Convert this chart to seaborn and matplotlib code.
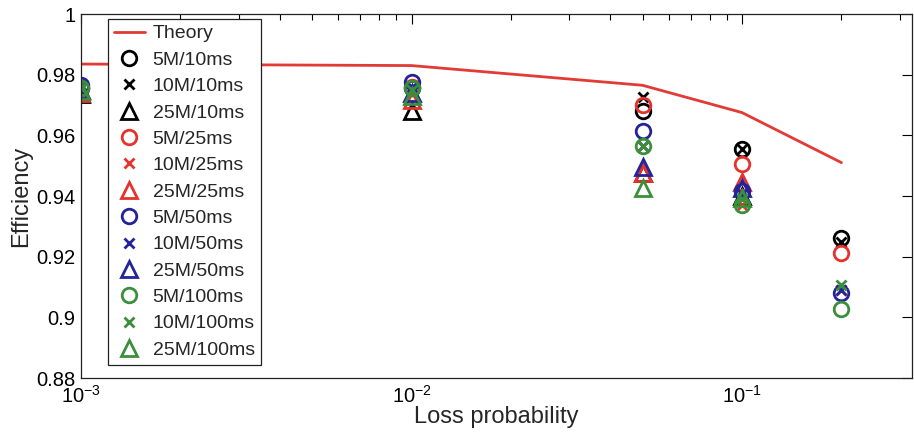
import numpy as np
import pandas as pd
import matplotlib
matplotlib.use("Agg")
import matplotlib.pyplot as plt
import seaborn as sns
from matplotlib.ticker import LogLocator, FixedLocator, FuncFormatter, NullFormatter

sns.set_style("white")
plt.rcParams["font.family"] = ["Liberation Sans", "DejaVu Sans"]
plt.rcParams["mathtext.fontset"] = "custom"
plt.rcParams["mathtext.rm"] = "Liberation Sans"
plt.rcParams["mathtext.it"] = "Liberation Sans:italic"
plt.rcParams["mathtext.default"] = "regular"

# ---------------- data ----------------
loss = [0.001, 0.01, 0.05, 0.1, 0.2]
theory = [0.9835, 0.983, 0.9765, 0.9675, 0.951]

eff_5M_10ms = [0.9755, 0.9755, 0.9680, 0.9555, 0.9260]
eff_10M_10ms = [0.9755, 0.9755, 0.9725, 0.9555, 0.9250]
eff_25M_10ms = [0.9735, 0.9680, 0.9475, 0.9400, np.nan]
eff_5M_25ms = [0.9755, 0.9760, 0.9700, 0.9505, 0.9212]
eff_10M_25ms = [0.9755, 0.9755, 0.9565, 0.9370, 0.9090]
eff_25M_25ms = [0.9740, 0.9715, 0.9475, 0.9445, np.nan]
eff_5M_50ms = [0.9765, 0.9775, 0.9615, 0.9415, 0.9080]
eff_10M_50ms = [0.9760, 0.9760, 0.9565, 0.9405, 0.9090]
eff_25M_50ms = [0.9750, 0.9740, 0.9495, 0.9425, np.nan]
eff_5M_100ms = [0.9755, 0.9755, 0.9565, 0.9370, 0.9027]
eff_10M_100ms = [0.9755, 0.9750, 0.9565, 0.9390, 0.9105]
eff_25M_100ms = [0.9745, 0.9730, 0.9425, 0.9395, np.nan]

series_labels = ["5M/10ms", "10M/10ms", "25M/10ms",
                 "5M/25ms", "10M/25ms", "25M/25ms",
                 "5M/50ms", "10M/50ms", "25M/50ms",
                 "5M/100ms", "10M/100ms", "25M/100ms"]
series_values = [eff_5M_10ms, eff_10M_10ms, eff_25M_10ms,
                 eff_5M_25ms, eff_10M_25ms, eff_25M_25ms,
                 eff_5M_50ms, eff_10M_50ms, eff_25M_50ms,
                 eff_5M_100ms, eff_10M_100ms, eff_25M_100ms]

ytick_values = [0.88, 0.9, 0.92, 0.94, 0.96, 0.98, 1.0]

# ---------------- styles ----------------
delay_colors = ["#000000", "#e5322c", "#23239c", "#3a8f3a"]
markers = ["o", "x", "^"]
msizes = [10.5, 7.5, 11]
theory_color = "#e23a35"

fig = plt.figure(figsize=(9.14, 4.41), dpi=100)
ax = fig.add_axes([81 / 914, 1 - 378 / 441, 831 / 914, 364 / 441])

sns.lineplot(x=loss, y=theory, ax=ax, color=theory_color, lw=2.0,
             label="Theory", errorbar=None)

for i, (lab, vals) in enumerate(zip(series_labels, series_values)):
    c = delay_colors[i // 3]
    m = markers[i % 3]
    df = pd.DataFrame({"loss": loss, "eff": vals}).dropna()
    sns.lineplot(data=df, x="loss", y="eff", ax=ax, linestyle="",
                 marker=m, markersize=msizes[i % 3], markerfacecolor="none",
                 markeredgecolor=c, color=c, markeredgewidth=2.0,
                 label=lab, errorbar=None)

ax.set_xscale("log")
ax.set_xlim(1e-3, 10 ** (-3 + 831 / 330.5))
ax.set_ylim(0.88, 1.0)

ax.xaxis.set_major_locator(LogLocator(base=10, numticks=10))
ax.xaxis.set_minor_locator(LogLocator(base=10, subs=np.arange(2, 10), numticks=20))
ax.xaxis.set_minor_formatter(NullFormatter())
ax.yaxis.set_major_locator(FixedLocator(ytick_values))
ax.yaxis.set_major_formatter(FuncFormatter(lambda v, p: f"{v:g}"))

ax.tick_params(which="both", direction="in", top=True, right=True,
               labelsize=14.5, colors="black", width=0.8)
ax.tick_params(which="major", length=7, pad=5)
ax.tick_params(axis="y", which="major", pad=4)
ax.tick_params(which="minor", length=4)
for s in ax.spines.values():
    s.set_color("#222222")
    s.set_linewidth(0.9)

ax.set_xlabel("Loss probability", fontsize=17, labelpad=-0.5)
ax.set_ylabel("Efficiency", fontsize=17, labelpad=3)

handles, labels = ax.get_legend_handles_labels()
leg = ax.legend(handles, labels, loc="upper left",
                bbox_to_anchor=((108 - 81) / 831, (378 - 19) / 364),
                borderaxespad=0, fontsize=14, frameon=True, fancybox=False,
                edgecolor="#222222", framealpha=1, labelspacing=0.45,
                handlelength=1.6, handletextpad=0.4, borderpad=0.3)
leg.get_frame().set_linewidth(0.9)

fig.savefig("out.png", dpi=100)
